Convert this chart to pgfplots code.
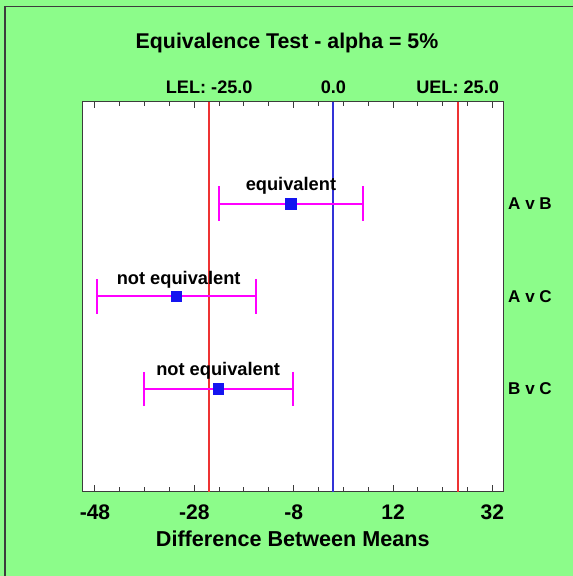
\documentclass[border=0pt]{standalone}
\usepackage{fontspec}
\setmainfont{Liberation Sans}
\usepackage{pgfplots}
\pgfplotsset{compat=1.18}
\definecolor{bggreen}{RGB}{140,252,138}
\definecolor{lelred}{RGB}{238,50,50}
\definecolor{zeroblue}{RGB}{50,50,215}
\definecolor{barmag}{RGB}{255,0,255}
\definecolor{markblue}{RGB}{20,20,240}
\definecolor{framegray}{RGB}{60,60,60}
\begin{document}
\begin{tikzpicture}
\useasboundingbox (0,0) rectangle (429.75pt,432pt);
\fill[bggreen] (0,0) rectangle (429.75pt,432pt);
\draw[framegray, line width=1.1pt] (3.75pt,0) -- (3.75pt,427pt) -- (429.75pt,427pt);
\node[font=\fontsize{16}{19}\selectfont\bfseries, anchor=base] at (215.25pt,395.25pt) {Equivalence Test - alpha = 5\%};
\begin{axis}[
  at={(61.7pt,63.2pt)}, anchor=south west,
  width=315.75pt, height=292.5pt, scale only axis,
  xmin=-50.56, xmax=34.2, ymin=-0.11, ymax=4.1,
  axis background/.style={fill=white},
  xtick={-48,-28,-8,12,32},
  xticklabels={-48,-28,-8,12,32},
  minor x tick num=3,
  xtick pos=both, xticklabel pos=lower,
  ytick={1,2,3}, yticklabels={B v C,A v C,A v B},
  yticklabel pos=right, ytick style={draw=none},
  tick align=inside,
  major tick length=5pt, minor tick length=3.2pt,
  tick style={line width=0.75pt, color=framegray},
  axis line style={line width=1pt, color=framegray},
  xticklabel style={font=\fontsize{15.8}{18}\selectfont\bfseries, anchor=base, yshift=-20.7pt},
  yticklabel style={font=\fontsize{12.8}{15}\selectfont\bfseries, anchor=west, inner sep=0pt, xshift=3.5pt},
  clip=false,
]
\addplot[lelred, line width=1.5pt] coordinates {(-25,-0.11) (-25,4.1)};
\addplot[zeroblue, line width=1.5pt] coordinates {(0,-0.11) (0,4.1)};
\addplot[lelred, line width=1.5pt] coordinates {(25,-0.11) (25,4.1)};
\addplot[only marks, mark=square*, mark size=3.9pt,
  mark options={fill=markblue, draw=markblue},
  error bars/.cd, x dir=both, x explicit,
  error bar style={barmag, line width=1.5pt},
  error mark=|,
  error mark options={barmag, mark size=13pt, line width=1.5pt}]
  coordinates {(-8.6,3) +- (14.5,0) (-31.6,2) +- (16.0,0) (-23.2,1) +- (15.0,0)};
\node[font=\fontsize{13.7}{16}\selectfont\bfseries, anchor=base, yshift=9.5pt] at (axis cs:-8.55,3) {equivalent};
\node[font=\fontsize{13.7}{16}\selectfont\bfseries, anchor=base, yshift=9.2pt] at (axis cs:-31.15,2) {not equivalent};
\node[font=\fontsize{13.7}{16}\selectfont\bfseries, anchor=base, yshift=9.8pt] at (axis cs:-23.2,1) {not equivalent};
\node[font=\fontsize{13.6}{16}\selectfont\bfseries, anchor=base, yshift=6.3pt] at (axis cs:-25,4.1) {LEL: -25.0};
\node[font=\fontsize{13.6}{16}\selectfont\bfseries, anchor=base, yshift=6.3pt] at (axis cs:0,4.1) {0.0};
\node[font=\fontsize{13.6}{16}\selectfont\bfseries, anchor=base, yshift=6.3pt] at (axis cs:25,4.1) {UEL: 25.0};
\node[font=\fontsize{16.2}{19}\selectfont\bfseries, anchor=base, yshift=-40.7pt] at (rel axis cs:0.5,0) {Difference Between Means};
\end{axis}
\end{tikzpicture}
\end{document}
